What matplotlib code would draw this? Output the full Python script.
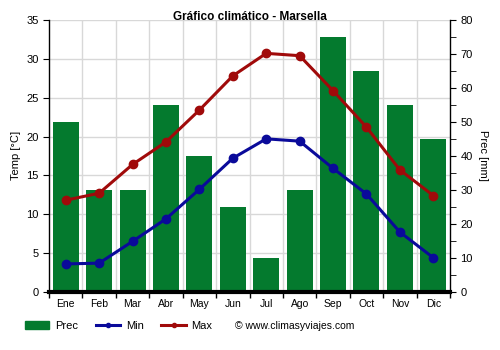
import numpy as np
import matplotlib.pyplot as plt
from matplotlib.lines import Line2D
from matplotlib.patches import Patch

plt.rcParams['font.family'] = ['Liberation Sans', 'DejaVu Sans']

meses = ['Ene', 'Feb', 'Mar', 'Abr', 'May', 'Jun', 'Jul', 'Ago', 'Sep', 'Oct', 'Nov', 'Dic']
prec = [50, 30, 30, 55, 40, 25, 10, 30, 75, 65, 55, 45]
t_min = [3.6, 3.7, 6.5, 9.4, 13.2, 17.2, 19.7, 19.4, 15.9, 12.6, 7.7, 4.4]
t_max = [11.8, 12.7, 16.4, 19.3, 23.4, 27.8, 30.7, 30.4, 25.9, 21.2, 15.7, 12.4]

verde = '#047a2e'
azul = '#0a0a9a'
rojo = '#a00a0a'

fig = plt.figure(figsize=(5, 3.5), dpi=100)
ax = fig.add_axes([0.098, 0.166, 0.802, 0.777])
ax2 = ax.twinx()

x = np.arange(12)

# barras de precipitación en el eje derecho
ax2.bar(x, prec, width=0.78, color=verde, zorder=2)
ax2.set_ylim(0, 80)
ax2.set_yticks(np.arange(0, 81, 10))
ax2.set_yticks(np.arange(5, 80, 10), minor=True)
ax2.set_ylabel('Prec [mm]', fontsize=8, rotation=270, labelpad=11)

# temperaturas en el eje izquierdo, por encima de las barras
ax.set_zorder(ax2.get_zorder() + 1)
ax.patch.set_visible(False)
ax.plot(x, t_min, color=azul, lw=2.2, marker='o', ms=6, zorder=3)
ax.plot(x, t_max, color=rojo, lw=2.2, marker='o', ms=6, zorder=3)
ax.set_ylim(0, 35)
ax.set_xlim(-0.5, 11.5)
ax.set_yticks(np.arange(0, 36, 5))
ax.set_ylabel('Temp [°C]', fontsize=8, labelpad=4)

# rejilla en los límites de cada mes
ax2.set_axisbelow(True)
for y in np.arange(5, 36, 5):
    ax2.axhline(y * 80 / 35, color='#d8d8d8', lw=1, zorder=0)
for b in np.arange(0.5, 11, 1):
    ax2.axvline(b, color='#d8d8d8', lw=1, zorder=0)

ax.set_xticks(x)
ax.set_xticklabels(meses)
ax.set_xticks(np.arange(-0.5, 12, 1), minor=True)
ax.tick_params(axis='x', which='major', length=0, labelsize=7.5, pad=5)
ax.tick_params(axis='x', which='minor', length=4, width=1)
ax.tick_params(axis='y', labelsize=8, length=4)
ax2.tick_params(axis='y', which='both', labelsize=8, length=4)

for a in (ax, ax2):
    a.spines['top'].set_visible(False)
ax.spines['right'].set_visible(False)
ax2.spines['left'].set_visible(False)
ax2.spines['bottom'].set_visible(False)
ax.spines['bottom'].set_linewidth(3)
ax.spines['left'].set_linewidth(1)
ax2.spines['right'].set_linewidth(1)

fig.text(0.5, 0.951, 'Gráfico climático - Marsella', fontsize=8.5, fontweight='bold',
         ha='center', va='center', zorder=10)

handles = [
    Patch(color=verde, label='Prec'),
    Line2D([], [], color=azul, lw=2.2, marker='o', ms=3, label='Min'),
    Line2D([], [], color=rojo, lw=2.2, marker='o', ms=3, label='Max'),
]
fig.legend(handles=handles, loc='center left', bbox_to_anchor=(0.03, 0.068), ncol=3,
           frameon=False, fontsize=8, handlelength=2.2, columnspacing=1.6,
           handletextpad=0.5)
fig.text(0.47, 0.068, '© www.climasyviajes.com', fontsize=7.5, va='center')

fig.savefig('out.png', dpi=100)
